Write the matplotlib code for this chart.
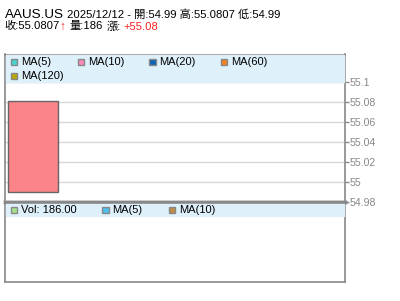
import matplotlib
matplotlib.use('Agg')
import matplotlib.pyplot as plt
from matplotlib.patches import Rectangle

# ── données ──
symbol = 'AAUS.US'
date = '2025/12/12'
opens = [54.99]
highs = [55.0807]
lows = [54.99]
closes = [55.0807]
volumes = [186]
change = 55.08

price_ticks = [54.98, 55.0, 55.02, 55.04, 55.06, 55.08, 55.1]
price_labels = ['54.98', '55', '55.02', '55.04', '55.06', '55.08', '55.1']

ma_names = ['MA(5)', 'MA(10)', 'MA(20)', 'MA(60)', 'MA(120)']
ma_colors = ['#44d4d0', '#ff88bb', '#0a64b4', '#f5821f', '#b8a800']
vol_names = [f'Vol: {volumes[0]:.2f}', 'MA(5)', 'MA(10)']
vol_colors = ['#a6e08a', '#4cc0ee', '#c08c48']

FONT = ['Liberation Sans', 'Noto Sans CJK TC', 'DejaVu Sans']
plt.rcParams['font.family'] = FONT

W, H = 400, 301
fig = plt.figure(figsize=(W / 100, H / 100), dpi=100)


def fx(x):
    return x / W


def fy(y):
    return 1 - y / H


# panneaux (coordonnées pixel)
left, right = 5, 345
top, mid, bottom = 54.5, 202, 282

ax = fig.add_axes([fx(left), fy(mid), fx(right - left), (mid - top) / H])
axv = fig.add_axes([fx(left), fy(bottom), fx(right - left), (bottom - mid) / H])

for a in (ax, axv):
    for s in a.spines.values():
        s.set_color('#888888')
        s.set_linewidth(1.2)
ax.spines['bottom'].set_linewidth(2.5)
axv.spines['top'].set_linewidth(2.5)

# chandelier
ax.set_xlim(-0.56, 6.24)
ax.set_ylim(54.9797, 55.1272)
for i, (o, h, l, c) in enumerate(zip(opens, highs, lows, closes)):
    color = '#fa8488' if c >= o else '#44aa44'
    ax.vlines(i, l, h, color='#666666', lw=1, zorder=2)
    ax.bar(i, abs(c - o), bottom=min(o, c), width=1.0, color=color,
           edgecolor='#666666', linewidth=1, zorder=3)

ax.set_yticks(price_ticks)
ax.yaxis.tick_right()
ax.set_yticklabels(price_labels)
ax.tick_params(axis='y', colors='#888888', labelcolor='#888888', labelsize=7.6,
               length=3, width=1, pad=0.5)
ax.set_xticks([])
ax.grid(axis='y', color='#d8d8d8', lw=1)
ax.set_axisbelow(True)

axv.set_xlim(-0.56, 6.24)
axv.set_ylim(0, 1)
axv.set_xticks([])
axv.set_yticks([])

# bandeaux de légende
fig.add_artist(Rectangle((fx(left + 1), fy(82)), fx(right - left - 2), 27.5 / H,
                         transform=fig.transFigure, color='#def0fa', zorder=1))
fig.add_artist(Rectangle((fx(left + 1), fy(215.5)), fx(right - left - 2), 12 / H,
                         transform=fig.transFigure, color='#def0fa', zorder=1))


def legend_item(x, y, name, color):
    fig.add_artist(Rectangle((fx(x), fy(y + 3.3)), 6.5 / W, 6.5 / H,
                             transform=fig.transFigure, facecolor=color,
                             edgecolor='#888888', lw=1, zorder=3))
    fig.text(fx(x + 10.5), fy(y), name, fontsize=8, va='center', ha='left',
             color='#000000', zorder=3)


main_pos = [(10.5, 62), (77.5, 62), (149, 62), (220.5, 62), (10.5, 76)]
for (x, y), n, c in zip(main_pos, ma_names, ma_colors):
    legend_item(x, y, n, c)

vol_pos = [(10.5, 210), (102, 210), (168.5, 210)]
for (x, y), n, c in zip(vol_pos, vol_names, vol_colors):
    legend_item(x, y, n, c)

# en-tête
small = 8.1
fig.text(fx(4.5), fy(17.5), symbol, fontsize=9.7, va='baseline', ha='left')
fig.text(fx(67), fy(17.5),
         f'{date} - 開:{opens[0]:.2f} 高:{highs[0]:g} 低:{lows[0]:.2f}',
         fontsize=small, va='baseline', ha='left')
fig.text(fx(4.5), fy(29.5), f'收:{closes[0]:g}', fontsize=small, va='baseline', ha='left')
fig.text(fx(59.5), fy(30), '↑', fontsize=8.5, va='baseline', ha='left',
         color='#ff2020', fontweight='bold')
fig.text(fx(69.5), fy(29.5), f'量:{volumes[0]}', fontsize=small, va='baseline', ha='left')
fig.text(fx(106.5), fy(29.5), '漲:', fontsize=small, va='baseline', ha='left')
fig.text(fx(123.5), fy(29.5), f'+{change:.2f}', fontsize=small, va='baseline',
         ha='left', color='#ff2020')

fig.savefig('out.png', dpi=100)
